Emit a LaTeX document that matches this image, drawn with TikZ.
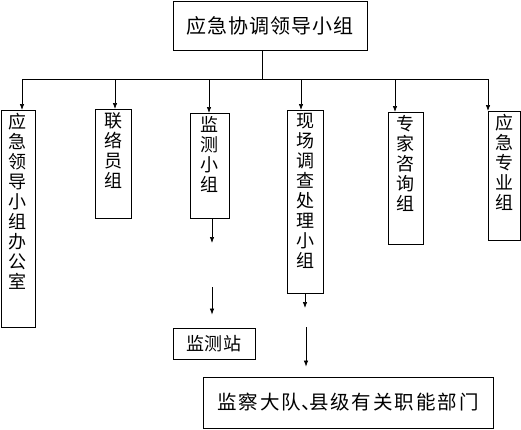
\documentclass[tikz,border=0pt]{standalone}
\usepackage{fontspec}
\setmainfont{Noto Sans CJK SC}
\newfontfamily\cjk{Noto Sans CJK SC}
\usetikzlibrary{arrows.meta}
% 竖排文字：高度、内容
\newcommand\shu[2]{\parbox[t][#1][t]{18pt}{\centering\fontsize{18}{20}\selectfont #2}}
\tikzset{
  kuang/.style={draw, line width=0.8pt, inner xsep=0pt, inner ysep=3pt, anchor=north},
  jt/.style={-{Latex[length=6pt,width=4.5pt]}, line width=0.7pt},
  xian/.style={line width=0.7pt}
}
\begin{document}
\begin{tikzpicture}[x=1pt,y=-1pt]
      \useasboundingbox (0,0) rectangle (521,429);

      % 顶部领导小组
      \node[draw, line width=0.8pt, minimum width=194pt, minimum height=49pt, inner sep=0pt,
        font=\fontsize{20}{24}\cjk\addfontfeature{LetterSpace=5}] (lingdao) at (270,25.5) {应急协调领导小组};

      % 六个下属小组
      \node[kuang, minimum width=34pt] (bgs) at (18,110) {\shu{211pt}{应\\急\\领\\导\\小\\组\\办\\公\\室}};
      \node[kuang, minimum width=36pt] (lly) at (113,109) {\shu{103pt}{联\\络\\员\\组}};
      \node[kuang, minimum width=39pt] (jc) at (209.5,113) {\shu{99pt}{监\\测\\小\\组}};
      \node[kuang, minimum width=36pt] (xc) at (305,110) {\shu{177pt}{现\\场\\调\\查\\处\\理\\小\\组}};
      \node[kuang, minimum width=35pt] (zj) at (405.5,112) {\shu{126pt}{专\\家\\咨\\询\\组}};
      \node[kuang, minimum width=32pt] (zy) at (504,111) {\shu{123pt}{应\\急\\专\\业\\组}};

      % 下层单位
      \node[draw, line width=0.8pt, minimum width=82pt, minimum height=31pt, inner sep=0pt,
        font=\fontsize{18}{22}\cjk\addfontfeature{LetterSpace=4}] (jcz) at (214,343.5) {监测站};
      \node[draw, line width=0.8pt, minimum width=290pt, minimum height=51pt, inner sep=0pt,
        font=\fontsize{19.5}{24}\cjk\addfontfeature{LetterSpace=10}] (bm) at (348,402.5) {监察大队\makebox[8pt][l]{、}县级有关职能部门};

      % 总线上的分支点
      \coordinate (zx) at (262,79);
      \coordinate (p1) at (22,79);
      \coordinate (p2) at (115,79);
      \coordinate (p3) at (209,79);
      \coordinate (p4) at (301,79);
      \coordinate (p5) at (395,79);
      \coordinate (p6) at (488,79);

      \draw[xian] (lingdao.south -| zx) -- (zx);
      \draw[xian] (p1) -- (p6);
      \foreach \p/\b in {p1/bgs,p2/lly,p3/jc,p4/xc,p5/zj,p6/zy}{
          \draw[jt] (\p) -- (\p |- \b.north);
        }

      % 监测小组 -> 监测站
      \coordinate (jc1) at (212,243);
      \coordinate (jc2) at (212,287);
      \draw[jt] (jc.south -| jc1) -- (jc1);
      \draw[jt, shorten >=13pt] (jc2) -- (jc2 |- jcz.north);

      % 现场调查处理小组 -> 有关部门
      \coordinate (xc1) at (305,308);
      \coordinate (xc2) at (306,327);
      \draw[jt] (xc.south -| xc1) -- (xc1);
      \draw[jt, shorten >=10pt] (xc2) -- (xc2 |- bm.north);
    \end{tikzpicture}
\end{document}
